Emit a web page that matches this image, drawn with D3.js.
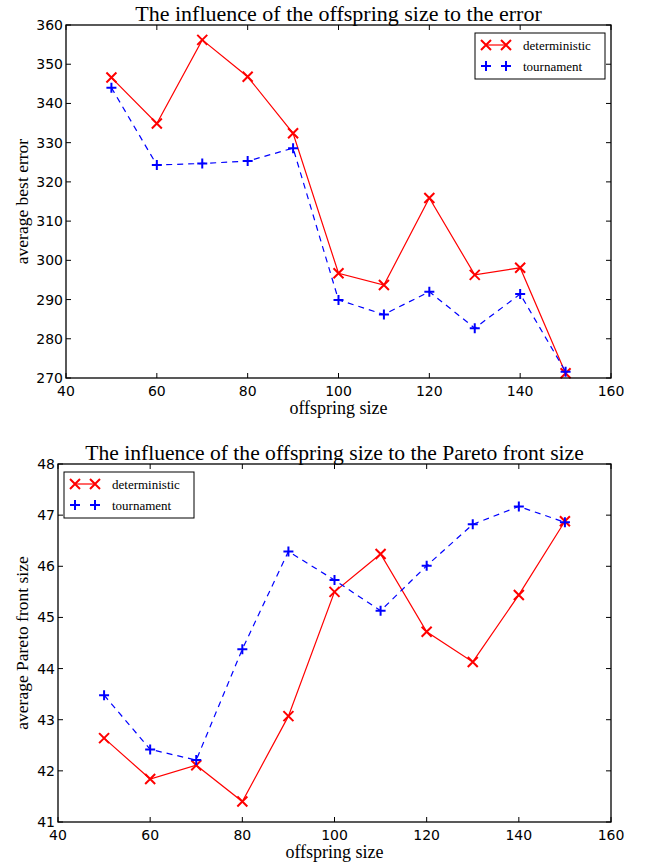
<!DOCTYPE html>
<html>
<head>
<meta charset="utf-8">
<script src="https://cdn.jsdelivr.net/npm/d3@7"></script>
<style>
  body { margin: 0; background: #fff; }
  svg text { fill: #000; }
  .tick-lbl { font-family: "DejaVu Sans", sans-serif; font-size: 14px; }
  .serif { font-family: "Liberation Serif", "Times New Roman", serif; }
</style>
</head>
<body>
<svg id="chart" width="646" height="866"></svg>
<script>
// offspring sizes shared by both panels
const offspring = [50, 60, 70, 80, 90, 100, 110, 120, 130, 140, 150];

// panel 1: average best error
const errDeterministic = [346.6, 334.9, 356.2, 346.8, 332.4, 296.7, 293.7, 315.9, 296.3, 298.1, 271.2];
const errTournament = [344.0, 324.3, 324.7, 325.3, 328.6, 289.9, 286.2, 292.0, 282.7, 291.4, 271.6];

// panel 2: average Pareto front size
const paretoDeterministic = [42.64, 41.84, 42.11, 41.40, 43.07, 45.50, 46.24, 44.72, 44.13, 45.44, 46.88];
const paretoTournament = [43.48, 42.42, 42.21, 44.38, 46.29, 45.73, 45.13, 46.01, 46.82, 47.17, 46.86];

const xTicks = [40, 60, 80, 100, 120, 140, 160];
const errTicks = [270, 280, 290, 300, 310, 320, 330, 340, 350, 360];
const paretoTicks = [41, 42, 43, 44, 45, 46, 47, 48];

const svg = d3.select('#chart');

function drawPanel({ box, yDomain, yTicks, series, title, titleSize, yLabel, legendAt }) {
  const x = d3.scaleLinear().domain([40, 160]).range([box.left, box.right]);
  const y = d3.scaleLinear().domain(yDomain).range([box.bottom, box.top]);
  const g = svg.append('g');

  // inward ticks on all four sides
  const tick = 5;
  g.selectAll('.xt').data(xTicks).join('g').each(function(d) {
    const s = d3.select(this);
    s.append('line').attr('x1', x(d)).attr('x2', x(d)).attr('y1', box.bottom).attr('y2', box.bottom - tick).attr('stroke', '#000');
    s.append('line').attr('x1', x(d)).attr('x2', x(d)).attr('y1', box.top).attr('y2', box.top + tick).attr('stroke', '#000');
    s.append('text').attr('class', 'tick-lbl').attr('x', x(d)).attr('y', box.bottom + 18)
      .attr('text-anchor', 'middle').text(d);
  });
  g.selectAll('.yt').data(yTicks).join('g').each(function(d) {
    const s = d3.select(this);
    s.append('line').attr('x1', box.left).attr('x2', box.left + tick).attr('y1', y(d)).attr('y2', y(d)).attr('stroke', '#000');
    s.append('line').attr('x1', box.right).attr('x2', box.right - tick).attr('y1', y(d)).attr('y2', y(d)).attr('stroke', '#000');
    s.append('text').attr('class', 'tick-lbl').attr('x', box.left - 3).attr('y', y(d) + 5)
      .attr('text-anchor', 'end').text(d);
  });

  const clip = 'clip' + Math.round(box.top);
  svg.append('clipPath').attr('id', clip).append('rect')
    .attr('x', box.left - 8).attr('y', box.top - 8)
    .attr('width', box.right - box.left + 16).attr('height', box.bottom - box.top + 16);

  const line = d3.line().x((d, i) => x(offspring[i])).y(d => y(d));
  const plot = g.append('g').attr('clip-path', `url(#${clip})`);

  series.forEach(s => {
    plot.append('path').datum(s.values)
      .attr('d', line).attr('fill', 'none').attr('stroke', s.color).attr('stroke-width', 1.2)
      .attr('stroke-dasharray', s.dash || null);
  });
  series.forEach(s => {
    plot.selectAll(null).data(s.values).join('path')
      .attr('transform', (d, i) => `translate(${x(offspring[i])},${y(d)})`)
      .attr('d', markerPath(s.marker)).attr('fill', 'none')
      .attr('stroke', s.color).attr('stroke-width', 2);
  });

  // frame
  g.append('rect').attr('x', box.left).attr('y', box.top)
    .attr('width', box.right - box.left).attr('height', box.bottom - box.top)
    .attr('fill', 'none').attr('stroke', '#000').attr('stroke-width', 1.3);

  // title and labels
  g.append('text').attr('class', 'serif').attr('x', (box.left + box.right) / 2).attr('y', box.top - 4.5)
    .attr('text-anchor', 'middle').attr('font-size', titleSize).text(title);
  g.append('text').attr('class', 'serif').attr('x', (box.left + box.right) / 2).attr('y', box.bottom + 36)
    .attr('text-anchor', 'middle').attr('font-size', 18).text('offspring size');
  g.append('text').attr('class', 'serif')
    .attr('transform', `translate(28,${(box.top + box.bottom) / 2}) rotate(-90)`)
    .attr('text-anchor', 'middle').attr('font-size', 17.5).text(yLabel);

  // legend
  const lg = g.append('g').attr('transform', `translate(${legendAt[0]},${legendAt[1]})`);
  lg.append('rect').attr('width', 130).attr('height', 46).attr('fill', '#fff')
    .attr('stroke', '#000').attr('stroke-width', 1);
  series.forEach((s, i) => {
    const ly = 12 + i * 21;
    if (!s.dash) {
      lg.append('line').attr('x1', 11).attr('x2', 31).attr('y1', ly).attr('y2', ly)
        .attr('stroke', s.color).attr('stroke-width', 1.2);
    }
    [11, 31].forEach(mx => lg.append('path').attr('transform', `translate(${mx},${ly})`)
      .attr('d', markerPath(s.marker)).attr('fill', 'none').attr('stroke', s.color).attr('stroke-width', 2));
    lg.append('text').attr('class', 'serif').attr('x', 48).attr('y', ly + 5)
      .attr('font-size', 13).text(s.name);
  });
}

function markerPath(kind) {
  const r = 5;
  return kind === 'x'
    ? `M${-r},${-r}L${r},${r}M${-r},${r}L${r},${-r}`
    : `M${-r},0L${r},0M0,${-r}L0,${r}`;
}

drawPanel({
  box: { left: 66, right: 611, top: 25, bottom: 378 },
  yDomain: [270, 360], yTicks: errTicks,
  title: 'The influence of the offspring size to the error', titleSize: 22,
  yLabel: 'average best error',
  legendAt: [475, 33],
  series: [
    { name: 'deterministic', values: errDeterministic, color: '#ff0000', marker: 'x' },
    { name: 'tournament', values: errTournament, color: '#0000ff', marker: '+', dash: '6,5' }
  ]
});

drawPanel({
  box: { left: 58, right: 611, top: 464, bottom: 822 },
  yDomain: [41, 48], yTicks: paretoTicks,
  title: 'The influence of the offspring size to the Pareto front size', titleSize: 21.6,
  yLabel: 'average Pareto front size',
  legendAt: [64, 472],
  series: [
    { name: 'deterministic', values: paretoDeterministic, color: '#ff0000', marker: 'x' },
    { name: 'tournament', values: paretoTournament, color: '#0000ff', marker: '+', dash: '6,5' }
  ]
});
</script>
</body>
</html>
